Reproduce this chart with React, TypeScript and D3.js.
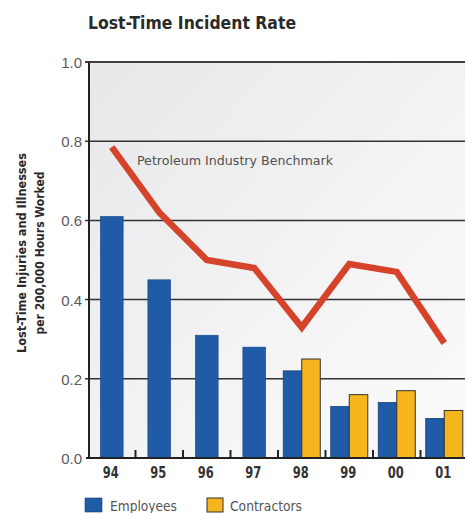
import React from "react";
import * as d3 from "d3";

// Lost-time incident rates per 200,000 hours worked
const years = ["94", "95", "96", "97", "98", "99", "00", "01"];
const employees = [0.61, 0.45, 0.31, 0.28, 0.22, 0.13, 0.14, 0.1];
const contractors: (number | null)[] = [null, null, null, null, 0.25, 0.16, 0.17, 0.12];
const benchmark = [0.785, 0.62, 0.5, 0.48, 0.33, 0.49, 0.47, 0.29];
const yTicks = [0, 0.2, 0.4, 0.6, 0.8, 1.0];
const seriesNames = ["Employees", "Contractors"];

const W = 465;
const H = 513;
const NARROW = "'Liberation Sans Narrow', 'DejaVu Sans Condensed', 'Arial Narrow', sans-serif";
const SANS = "'Liberation Sans', Arial, sans-serif";

const BLUE = "#1f5ba6";
const YELLOW = "#f6b51d";
const RED = "#d5432b";

export default function App() {
  const x = d3.scaleBand<string>().domain(years).range([88, 468]).paddingInner(0).paddingOuter(0);
  const y = d3.scaleLinear().domain([0, 1]).range([458, 62]);
  const bw = x.bandwidth();
  const singleW = bw * 0.48;
  const pairW = bw * 0.78;
  const sub = d3.scaleBand<string>().domain(seriesNames).range([0, pairW]);

  const line = d3
    .line<number>()
    .x((_, i) => (x(years[i]) as number) + bw / 2)
    .y((d) => y(d));

  const plotL = 89;
  const plotR = 465;

  return (
    <svg
      width={W}
      height={H}
      viewBox={`0 0 ${W} ${H}`}
      style={{ position: "absolute", left: 0, top: 0, background: "#fff" }}
    >
      <defs>
        <linearGradient id="plotBg" x1="0" y1="0" x2="1" y2="1">
          <stop offset="0" stopColor="#e7e8e9" />
          <stop offset="0.6" stopColor="#f4f4f5" />
          <stop offset="1" stopColor="#fbfbfb" />
        </linearGradient>
      </defs>

      {/* title */}
      <text
        x={88}
        y={29}
        fontFamily={NARROW}
        fontWeight="bold"
        fontSize={18}
        fill="#2a2a2a"
        textLength={208}
        lengthAdjust="spacingAndGlyphs"
      >
        Lost-Time Incident Rate
      </text>

      {/* plot background */}
      <rect x={plotL} y={y(1)} width={plotR - plotL} height={y(0) - y(1)} fill="url(#plotBg)" />

      {/* gridlines and y tick labels */}
      {yTicks.map((t) => (
        <g key={t}>
          {t > 0 && (
            <line x1={85} x2={plotR} y1={y(t)} y2={y(t)} stroke="#333" strokeWidth={1.5} />
          )}
          <text
            x={82}
            y={y(t) + 6}
            textAnchor="end"
            fontFamily={SANS}
            fontSize={15}
            fill="#5a5a5a"
          >
            {t.toFixed(1)}
          </text>
        </g>
      ))}

      {/* bars */}
      {years.map((yr, i) => {
        const x0 = x(yr) as number;
        const c = contractors[i];
        if (c == null) {
          const bx = x0 + (bw - singleW) / 2;
          return (
            <rect
              key={yr}
              x={bx}
              y={y(employees[i])}
              width={singleW}
              height={y(0) - y(employees[i])}
              fill={BLUE}
              stroke="#1a4a88"
              strokeWidth={0.6}
            />
          );
        }
        const px = x0 + (bw - pairW) / 2;
        return (
          <g key={yr}>
            <rect
              x={px + (sub("Employees") as number)}
              y={y(employees[i])}
              width={sub.bandwidth()}
              height={y(0) - y(employees[i])}
              fill={BLUE}
              stroke="#1a3f75"
              strokeWidth={0.8}
            />
            <rect
              x={px + (sub("Contractors") as number)}
              y={y(c)}
              width={sub.bandwidth()}
              height={y(0) - y(c)}
              fill={YELLOW}
              stroke="#333"
              strokeWidth={1}
            />
          </g>
        );
      })}

      {/* category ticks between bands */}
      {years.slice(1).map((yr) => {
        const tx = x(yr) as number;
        return <line key={yr} x1={tx} x2={tx} y1={y(0)} y2={y(0) - 8} stroke="#222" strokeWidth={2} />;
      })}

      {/* axes */}
      <line x1={plotL} x2={plotL} y1={y(1) - 1} y2={y(0)} stroke="#222" strokeWidth={2} />
      <line x1={86} x2={plotR} y1={y(0)} y2={y(0)} stroke="#222" strokeWidth={2} />
      <line x1={85} x2={plotR} y1={y(1)} y2={y(1)} stroke="#333" strokeWidth={1.5} />

      {/* benchmark line */}
      <path
        d={line(benchmark) || ""}
        fill="none"
        stroke={RED}
        strokeWidth={6.5}
        strokeLinejoin="miter"
        strokeLinecap="butt"
      />
      <text
        x={137}
        y={165}
        fontFamily={NARROW}
        fontSize={13}
        fill="#505050"
        textLength={196}
        lengthAdjust="spacingAndGlyphs"
      >
        Petroleum Industry Benchmark
      </text>

      {/* year labels */}
      {years.map((yr) => (
        <text
          key={yr}
          x={(x(yr) as number) + bw / 2 - 1}
          y={478}
          textAnchor="middle"
          fontFamily={NARROW}
          fontWeight="bold"
          fontSize={15}
          fill="#333"
          textLength={16}
          lengthAdjust="spacingAndGlyphs"
        >
          {yr}
        </text>
      ))}

      {/* y axis title */}
      <g transform="translate(26,253) rotate(-90)">
        <text
          textAnchor="middle"
          fontFamily={NARROW}
          fontWeight="bold"
          fontSize={13}
          fill="#2a2a2a"
          textLength={200}
          lengthAdjust="spacingAndGlyphs"
        >
          Lost-Time Injuries and Illnesses
        </text>
      </g>
      <g transform="translate(44,253) rotate(-90)">
        <text
          textAnchor="middle"
          fontFamily={NARROW}
          fontWeight="bold"
          fontSize={13}
          fill="#2a2a2a"
          textLength={163}
          lengthAdjust="spacingAndGlyphs"
        >
          per 200,000 Hours Worked
        </text>
      </g>

      {/* legend */}
      <rect x={85} y={498} width={17} height={14} fill={BLUE} stroke="#1a3f75" strokeWidth={0.6} />
      <text x={110} y={511} fontFamily={NARROW} fontSize={14} fill="#555" textLength={67} lengthAdjust="spacingAndGlyphs">
        {seriesNames[0]}
      </text>
      <rect x={207} y={498} width={16} height={14} fill={YELLOW} stroke="#333" strokeWidth={1} />
      <text x={230} y={511} fontFamily={NARROW} fontSize={14} fill="#555" textLength={72} lengthAdjust="spacingAndGlyphs">
        {seriesNames[1]}
      </text>
    </svg>
  );
}
